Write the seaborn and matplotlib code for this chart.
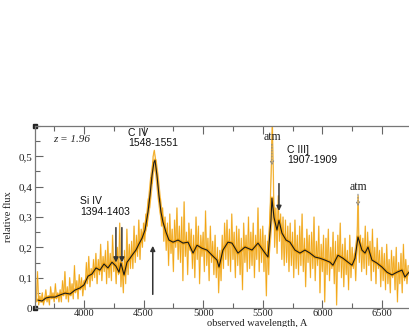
import numpy as np
import seaborn as sns
import matplotlib.pyplot as plt
from matplotlib.ticker import FuncFormatter, MultipleLocator

sns.set_style('ticks')

# ----------------------------------------------------------------------
# data
# ----------------------------------------------------------------------

# smoothed spectrum (black)
smooth_wl = [3614, 3648, 3681, 3715, 3757, 3799, 3841, 3883, 3924, 3966,
             4000, 4034, 4067, 4101, 4134, 4168, 4201, 4235, 4268, 4294,
             4310, 4336, 4361, 4386, 4411, 4436, 4461, 4487, 4512, 4537,
             4554, 4571, 4587, 4596, 4612, 4629, 4646, 4663, 4688, 4713,
             4747, 4789, 4831, 4873, 4915, 4948, 4990, 5032, 5074, 5116,
             5133, 5166, 5208, 5242, 5292, 5351, 5410, 5460, 5519, 5544,
             5569, 5577, 5594, 5619, 5636, 5661, 5695, 5728, 5770, 5812,
             5854, 5896, 5938, 5980, 6022, 6064, 6089, 6131, 6173, 6215,
             6249, 6274, 6299, 6332, 6358, 6383, 6416, 6458, 6500, 6542,
             6584, 6626, 6668, 6693, 6727]
smooth_flux = [0.026, 0.023, 0.033, 0.036, 0.036, 0.043, 0.049, 0.046, 0.059, 0.066,
               0.076, 0.105, 0.112, 0.132, 0.125, 0.145, 0.132, 0.151, 0.138, 0.118,
               0.148, 0.109, 0.151, 0.164, 0.178, 0.191, 0.211, 0.230, 0.257, 0.316,
               0.372, 0.438, 0.480, 0.487, 0.438, 0.372, 0.316, 0.283, 0.250, 0.224,
               0.217, 0.224, 0.214, 0.217, 0.181, 0.207, 0.197, 0.191, 0.174, 0.158,
               0.135, 0.191, 0.217, 0.214, 0.181, 0.201, 0.191, 0.214, 0.181, 0.168,
               0.289, 0.362, 0.299, 0.257, 0.289, 0.247, 0.224, 0.217, 0.191, 0.181,
               0.191, 0.181, 0.168, 0.164, 0.158, 0.151, 0.141, 0.174, 0.164, 0.151,
               0.141, 0.164, 0.234, 0.191, 0.181, 0.201, 0.158, 0.148, 0.135, 0.118,
               0.109, 0.118, 0.125, 0.102, 0.118]

# raw spectrum (orange), one value every 10 A starting at 3600 A
raw_start = 3600
raw_step = 10
raw_flux = [
    0.02, 0.12, 0.01, 0.04, 0.02, 0.05, 0.01, 0.03, 0.06, 0.02,   # 3600
    0.04, 0.01, 0.07, 0.03, 0.05, 0.02, 0.08, 0.03, 0.05, 0.02,   # 3700
    0.06, 0.02, 0.09, 0.04, 0.12, 0.03, 0.07, 0.02, 0.10, 0.04,   # 3800
    0.08, 0.03, 0.14, 0.05, 0.09, 0.03, 0.11, 0.06, 0.10, 0.04,   # 3900
    0.09, 0.06, 0.15, 0.08, 0.17, 0.07, 0.13, 0.09, 0.16, 0.10,   # 4000
    0.18, 0.08, 0.16, 0.11, 0.21, 0.09, 0.17, 0.12, 0.19, 0.08,   # 4100
    0.22, 0.10, 0.18, 0.09, 0.24, 0.12, 0.17, 0.08, 0.20, 0.11,   # 4200
    0.28, 0.07, 0.15, 0.05, 0.19, 0.08, 0.26, 0.11, 0.21, 0.13,   # 4300
    0.22, 0.13, 0.27, 0.15, 0.24, 0.17, 0.29, 0.16, 0.26, 0.20,   # 4400
    0.28, 0.22, 0.31, 0.27, 0.36, 0.33, 0.43, 0.41, 0.50, 0.52,   # 4500
    0.49, 0.45, 0.42, 0.35, 0.36, 0.27, 0.33, 0.22, 0.30, 0.19,   # 4600
    0.28, 0.14, 0.31, 0.18, 0.26, 0.12, 0.29, 0.20, 0.33, 0.16,   # 4700
    0.27, 0.15, 0.30, 0.09, 0.35, 0.17, 0.25, 0.11, 0.28, 0.19,   # 4800
    0.26, 0.13, 0.24, 0.10, 0.30, 0.16, 0.27, 0.08, 0.24, 0.17,   # 4900
    0.25, 0.12, 0.32, 0.14, 0.23, 0.09, 0.27, 0.15, 0.22, 0.11,   # 5000
    0.24, 0.10, 0.20, 0.05, 0.19, 0.09, 0.24, 0.13, 0.28, 0.16,   # 5100
    0.29, 0.14, 0.26, 0.12, 0.31, 0.16, 0.25, 0.10, 0.27, 0.14,   # 5200
    0.26, 0.11, 0.23, 0.06, 0.28, 0.15, 0.24, 0.12, 0.30, 0.13,   # 5300
    0.25, 0.14, 0.28, 0.10, 0.24, 0.16, 0.33, 0.12, 0.26, 0.15,   # 5400
    0.27, 0.12, 0.24, 0.04, 0.22, 0.11, 0.30, 0.44, 0.62, 0.40,   # 5500
    0.20, 0.33, 0.18, 0.37, 0.22, 0.31, 0.16, 0.30, 0.14, 0.29,   # 5600
    0.15, 0.27, 0.12, 0.28, 0.14, 0.25, 0.10, 0.29, 0.13, 0.24,   # 5700
    0.11, 0.27, 0.14, 0.31, 0.12, 0.23, 0.07, 0.26, 0.15, 0.24,   # 5800
    0.10, 0.25, 0.13, 0.30, 0.09, 0.22, 0.14, 0.27, 0.05, 0.21,   # 5900
    0.12, 0.24, 0.02, 0.23, 0.11, 0.26, 0.09, 0.20, 0.13, 0.25,   # 6000
    0.08, 0.22, 0.01, 0.24, 0.12, 0.28, 0.10, 0.21, 0.07, 0.23,   # 6100
    0.11, 0.19, 0.06, 0.24, 0.10, 0.20, 0.13, 0.18, 0.09, 0.22,   # 6200
    0.37, 0.15, 0.24, 0.12, 0.23, 0.13, 0.27, 0.11, 0.25, 0.14,   # 6300
    0.22, 0.09, 0.26, 0.12, 0.20, 0.08, 0.23, 0.13, 0.19, 0.07,   # 6400
    0.20, 0.09, 0.18, 0.06, 0.21, 0.08, 0.16, 0.05, 0.19, 0.10,   # 6500
    0.17, 0.06, 0.20, 0.02, 0.15, 0.08, 0.18, 0.05, 0.21, 0.09,   # 6600
    0.16, 0.08, 0.14,                                             # 6700
]
raw_wl = raw_start + raw_step * np.arange(len(raw_flux))

x_ticks = [4000, 4500, 5000, 5500, 6000, 6500]
y_ticks = [0, 0.1, 0.2, 0.3, 0.4, 0.5]

# line labels: text, wavelength, flux of text top
line_labels = [('C IV\n1548-1551', 4369, 0.595),
               ('Si IV\n1394-1403', 3966, 0.368),
               ('C III]\n1907-1909', 5703, 0.538)]
# solid arrows: wavelength, tail flux, head flux
solid_arrows = [(4268, 0.265, 0.150), (4318, 0.265, 0.150),
                (4577, 0.045, 0.205), (5636, 0.410, 0.320)]
# atmospheric lines: wavelength, tail flux, head flux
atm_lines = [(5577, 0.540, 0.470), (6299, 0.375, 0.335)]

# ----------------------------------------------------------------------
# plot
# ----------------------------------------------------------------------
fig = plt.figure(figsize=(4.09, 3.27), dpi=100)
ax = fig.add_axes([35 / 409, 19 / 327, 374 / 409, 182 / 327])

# pale spikes, bright core, smoothed curve on top
sns.lineplot(x=raw_wl, y=raw_flux, color='#F5CD78', lw=1.0, ax=ax, estimator=None)
sns.lineplot(x=raw_wl, y=raw_flux, color='#F3A30F', lw=0.45, ax=ax, estimator=None)
sns.lineplot(x=smooth_wl, y=smooth_flux, color='#F5A000', lw=2.5, alpha=0.7, ax=ax, estimator=None)
sns.lineplot(x=smooth_wl, y=smooth_flux, color='#1a1a1a', lw=0.8, ax=ax, estimator=None)

ax.set_xlim(3589, 6727)
ax.set_ylim(0, 0.6)

ax.set_xticks(x_ticks)
ax.set_yticks(y_ticks)
ax.xaxis.set_minor_locator(MultipleLocator(250))
ax.yaxis.set_minor_locator(MultipleLocator(0.05))
ax.yaxis.set_major_formatter(FuncFormatter(
    lambda v, p: '0' if v == 0 else f'{v:.1f}'.replace('.', ',')))

ax.tick_params(which='both', direction='in', top=True, right=False,
               colors='#666666', labelcolor='#222222', labelsize=8,
               labelfontfamily='Liberation Serif')
ax.tick_params(which='major', length=6, width=0.8, pad=2)
ax.tick_params(axis='x', which='major', pad=1, labelsize=7.5)
ax.tick_params(which='minor', length=3.5, width=0.8)

for side in ['left', 'bottom', 'top']:
    ax.spines[side].set_color('#777777')
    ax.spines[side].set_linewidth(0.9)
ax.spines['right'].set_visible(False)

ax.set_xlabel('observed wavelength, A', family='Liberation Serif', fontsize=7.5, color='#222222')
ax.xaxis.set_label_coords(0.595, -0.06)
ax.set_ylabel('relative flux', family='Liberation Serif', fontsize=7.5, color='#222222')
ax.yaxis.set_label_coords(-0.058, 0.5)

# corner squares
ax.plot([0, 0], [0, 1], 's', color='#222222', ms=2.5, transform=ax.transAxes, clip_on=False)

ax.text(3740, 0.556, 'z = 1.96', family='Liberation Serif', style='italic',
        fontsize=8, color='#222222', va='center')

for txt, wl, top in line_labels:
    ax.text(wl, top, txt, family='Liberation Sans', fontsize=7.5, color='#111111',
            va='top', ha='left', linespacing=1.05)

for wl, tail, head in solid_arrows:
    ax.annotate('', xy=(wl, head), xytext=(wl, tail),
                arrowprops=dict(arrowstyle='-|>', color='#333333', lw=1.1,
                                mutation_scale=7, shrinkA=0, shrinkB=0))

for wl, tail, head in atm_lines:
    ax.annotate('', xy=(wl, head), xytext=(wl, tail),
                arrowprops=dict(arrowstyle='->', color='#888888', lw=0.8, ls=':',
                                mutation_scale=6, shrinkA=0, shrinkB=0))
    ax.text(wl, tail + 0.004, 'atm', family='Liberation Serif', fontsize=8.5,
            color='#222222', ha='center', va='bottom')

fig.savefig('out.png', dpi=100)
